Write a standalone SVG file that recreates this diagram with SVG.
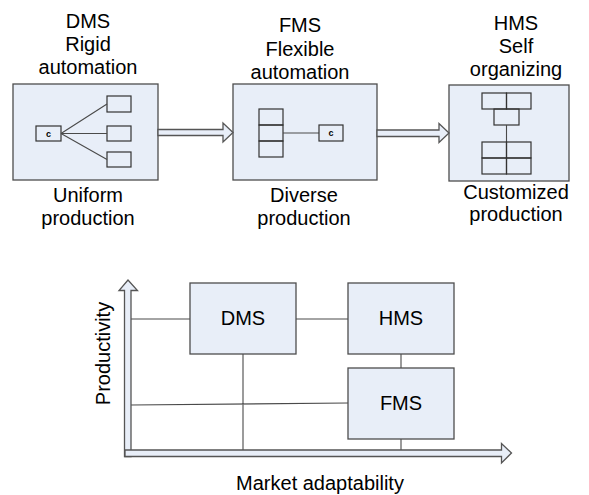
<svg xmlns="http://www.w3.org/2000/svg" width="589" height="495" viewBox="0 0 589 495">
  <style>
    .box { fill: #e8eef8; stroke: #4d4d4d; stroke-width: 1.3; }
    .sub { fill: none; stroke: #333; stroke-width: 1.2; }
    .ln { fill: none; stroke: #4a4a4a; stroke-width: 1.1; }
    .arr { fill: #e8eef8; stroke: #555; stroke-width: 1.3; stroke-linejoin: miter; }
    text { font-family: "Liberation Sans", Arial, sans-serif; fill: #000; }
    .lbl { font-size: 20px; text-anchor: middle; }
    .c { font-size: 9px; font-weight: bold; text-anchor: middle; }
  </style>

  <rect width="589" height="495" fill="#fff"/>

  <!-- Top row: manufacturing system types -->
  <g id="dms-top">
    <text class="lbl" x="88" y="28">DMS</text>
    <text class="lbl" x="88" y="51">Rigid</text>
    <text class="lbl" x="88" y="74">automation</text>
    <rect class="box" x="13" y="84" width="145" height="96"/>
    <rect class="sub" x="36" y="126" width="25" height="15"/>
    <text class="c" x="48.5" y="137">c</text>
    <rect class="sub" x="107" y="96" width="24" height="16"/>
    <rect class="sub" x="107" y="126" width="24" height="15"/>
    <rect class="sub" x="107" y="152" width="24" height="15"/>
    <path class="ln" d="M61 133.5 L107 104 M61 133.5 L107 133.5 M61 133.5 L107 159.5"/>
    <text class="lbl" x="88" y="202">Uniform</text>
    <text class="lbl" x="88" y="224.5">production</text>
  </g>

  <g id="fms-top">
    <text class="lbl" x="300" y="32">FMS</text>
    <text class="lbl" x="300" y="56">Flexible</text>
    <text class="lbl" x="300" y="79">automation</text>
    <rect class="box" x="233" y="84" width="144" height="96"/>
    <rect class="sub" x="259" y="109" width="24" height="16"/>
    <rect class="sub" x="259" y="125" width="24" height="16"/>
    <rect class="sub" x="259" y="141" width="24" height="16"/>
    <path class="ln" d="M283 133 L319 133"/>
    <rect class="sub" x="319" y="125" width="24" height="16"/>
    <text class="c" x="331" y="136">c</text>
    <text class="lbl" x="304" y="202">Diverse</text>
    <text class="lbl" x="304" y="224.5">production</text>
  </g>

  <g id="hms-top">
    <text class="lbl" x="516" y="30">HMS</text>
    <text class="lbl" x="516" y="53">Self</text>
    <text class="lbl" x="516" y="76">organizing</text>
    <rect class="box" x="449" y="85" width="120" height="96"/>
    <rect class="sub" x="482" y="93" width="24.5" height="16"/>
    <rect class="sub" x="506.5" y="93" width="24.5" height="16"/>
    <rect class="sub" x="494" y="109" width="25" height="16"/>
    <path class="ln" d="M506.5 125 L506.5 142"/>
    <rect class="sub" x="482" y="142" width="24.5" height="16"/>
    <rect class="sub" x="506.5" y="142" width="24.5" height="16"/>
    <rect class="sub" x="482" y="158" width="24.5" height="16"/>
    <rect class="sub" x="506.5" y="158" width="24.5" height="16"/>
    <text class="lbl" x="516" y="198.5">Customized</text>
    <text class="lbl" x="516" y="221">production</text>
  </g>

  <!-- Transition arrows between the top systems -->
  <g id="connectors">
    <polygon class="arr" points="158,129.5 223,129.5 223,123 233,132.5 223,142 223,135.5 158,135.5"/>
    <polygon class="arr" points="377,130 439,130 439,123.5 449,133 439,142.5 439,136.5 377,136.5"/>

    <!-- Chart links -->
    <path class="ln" d="M131 319 L190 319 M296 319 L348 319 M243 354 L243 450 M131 405 L348 403 M401 354 L401 368 M401 439 L401 450"/>
  </g>

  <!-- Axes -->
  <g id="axes">
    <polygon class="arr" points="124.5,456.5 124.5,290.5 119,290.5 128,280 137.5,290.5 131,290.5 131,456.5"/>
    <polygon class="arr" points="125,450 501.5,450 501.5,443.5 511.5,453 501.5,463 501.5,456.5 125,456.5"/>
    <text class="lbl" transform="translate(110 353.5) rotate(-90)" x="0" y="0">Productivity</text>
    <text class="lbl" x="320" y="490">Market adaptability</text>
  </g>

  <!-- Chart nodes -->
  <g id="dms">
    <rect class="box" x="190" y="283" width="106" height="71"/>
    <text class="lbl" x="243" y="325">DMS</text>
  </g>
  <g id="hms">
    <rect class="box" x="348" y="283" width="106" height="71"/>
    <text class="lbl" x="401" y="325">HMS</text>
  </g>
  <g id="fms">
    <rect class="box" x="348" y="368" width="106" height="71"/>
    <text class="lbl" x="401" y="410">FMS</text>
  </g>
</svg>
